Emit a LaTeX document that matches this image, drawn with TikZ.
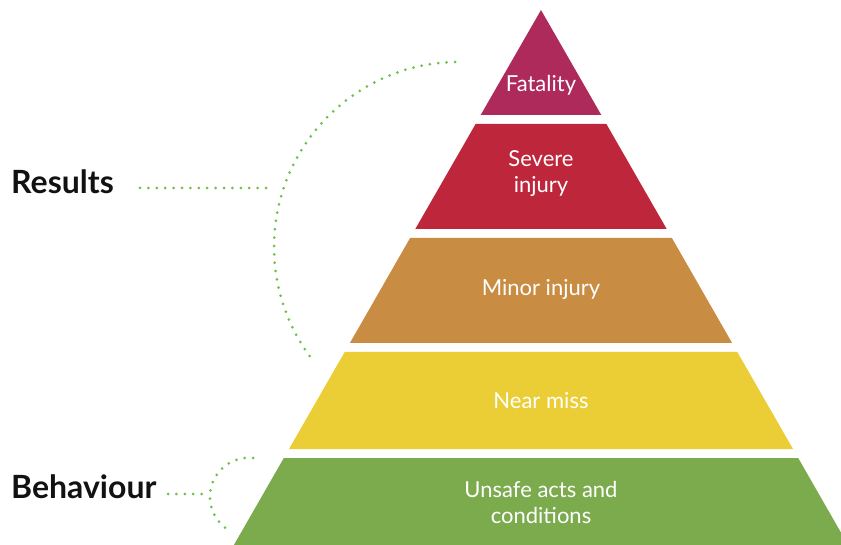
\documentclass[tikz,border=0pt]{standalone}
\usepackage{fontspec}
\setmainfont{Lato}
\definecolor{cFat}{HTML}{AD2A5B}
\definecolor{cSev}{HTML}{BE273B}
\definecolor{cMin}{HTML}{C98C43}
\definecolor{cNear}{HTML}{EBCE36}
\definecolor{cUns}{HTML}{7BAB4D}
\definecolor{dotgreen}{HTML}{6DC04B}
\begin{document}
\begin{tikzpicture}[x=1pt,y=-1pt,
  layertext/.style={text=white,font=\fontsize{22}{26}\selectfont,align=center,anchor=base,inner sep=0pt},
  sidelabel/.style={text=black!93,font=\fontsize{32}{36}\selectfont\bfseries,anchor=base west,inner sep=0pt},
  dots/.style={draw=dotgreen,line width=3pt,line cap=round,dash pattern=on 0pt off 8.4pt}]
\useasboundingbox (0,0) rectangle (841,545);
\clip (0,0) rectangle (841,545);
% pyramid layers
\fill[cFat] (541,10) -- (601.3,115) -- (480.7,115) -- cycle;
\fill[cSev] (475.6,124) -- (606.4,124) -- (666.7,229) -- (415.3,229) -- cycle;
\fill[cMin] (410.1,238) -- (671.9,238) -- (732.1,343) -- (349.9,343) -- cycle;
\fill[cNear] (344.7,352) -- (737.3,352) -- (793,449) -- (289,449) -- cycle;
\fill[cUns] (283.8,458) -- (798.2,458) -- (848.1,545) -- (233.9,545) -- cycle;
% layer labels
\node[layertext] (fat) at (541,92) {Fatality};
\node[layertext] (sev) at (541,193) {Severe\\injury};
\node[layertext] (min) at (541,296) {Minor injury};
\node[layertext] (near) at (541,408) {Near miss};
\node[layertext] (uns) at (541,523) {Unsafe acts and\\conditions};
% side labels
\node[sidelabel] (results) at (11,194) {Results};
\node[sidelabel] (behav) at (11,498) {Behaviour};
% results bracket
\coordinate (rs) at (140,188);
\coordinate (rj) at (274,188);
\coordinate (rtop) at (455,62);
\draw[dots] (rs) -- (rj);
\draw[dots] (rtop) arc[start angle=91.25,end angle=218,radius=185pt];
% behaviour bracket
\coordinate (bs) at (168,494);
\coordinate (bj) at (202,494);
\coordinate (btop) at (253,458);
\draw[dots] (bs) -- (bj);
\draw[dots] (btop) arc[start angle=84,end angle=233,radius=39pt];
\end{tikzpicture}
\end{document}
